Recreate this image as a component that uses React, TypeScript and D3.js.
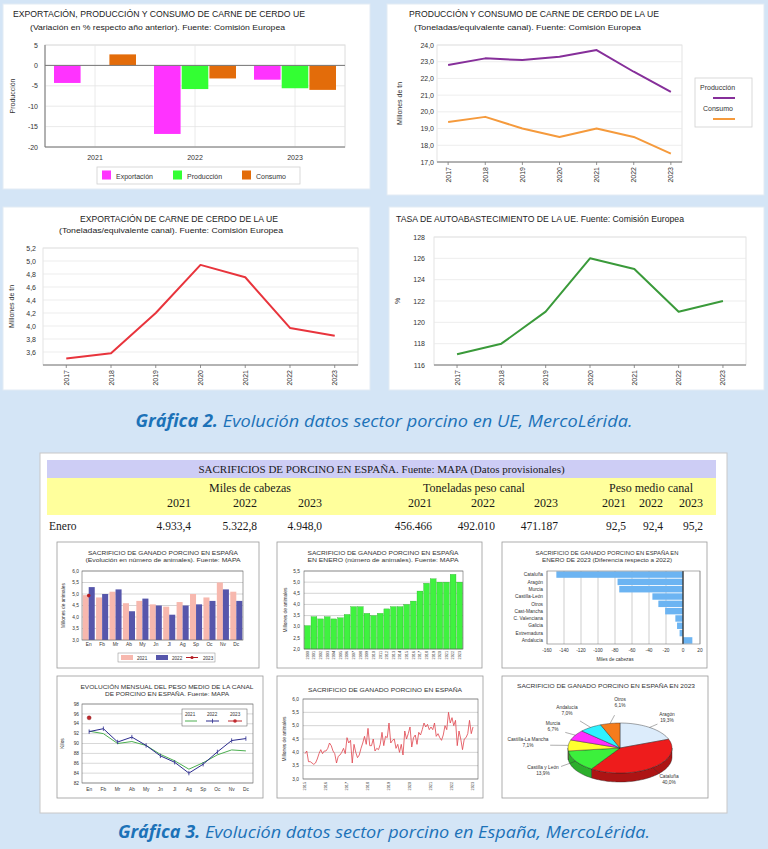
import React, { useEffect } from 'react';
import * as d3 from 'd3';

const SANS = "'Liberation Sans', Arial, Helvetica, sans-serif";
const SERIF = "'Liberation Serif', 'Times New Roman', serif";
const CAP = "'Open Sans', 'Noto Sans', sans-serif";

const es = d3.formatLocale({ decimal: ',', thousands: '.', grouping: [3], currency: ['', '€'] });
const f1 = es.format('.1f');
const fThousand1 = es.format(',.1f');
const fThousand0 = es.format(',d');

// ---------------- UE data ----------------
const ueYears = ['2017', '2018', '2019', '2020', '2021', '2022', '2023'];
const varYears = ['2021', '2022', '2023'];
const varSeries = ['Exportación', 'Producción', 'Consumo'];
const varExportacion = [-4.3, -16.8, -3.5];
const varProduccion = [null, -5.8, -5.6];
const varConsumo = [2.7, -3.2, -6.0];
const varColors = ['#ff33ff', '#33ff33', '#e36c0a'];
const varTicks = [5, 0, -5, -10, -15, -20];

const ueProduccion = [22.8, 23.2, 23.1, 23.3, 23.7, 22.4, 21.2];
const ueConsumo = [19.4, 19.7, 19.0, 18.5, 19.0, 18.5, 17.5];
const ueProdTicks = [17, 18, 19, 20, 21, 22, 23, 24];

const ueExport = [3.5, 3.58, 4.2, 4.94, 4.75, 3.97, 3.85];
const ueExportTicks = [3.6, 3.8, 4.0, 4.2, 4.4, 4.6, 4.8, 5.0, 5.2];

const ueTasa = [117, 118, 121, 126, 125, 121, 122];
const ueTasaTicks = [116, 118, 120, 122, 124, 126, 128];

// ---------------- Spain table ----------------
const tblGroups = ['Miles de cabezas', 'Toneladas peso canal', 'Peso medio canal'];
const tblYears = ['2021', '2022', '2023'];
const eneroMiles = [4933.4, 5322.8, 4948.0];
const eneroToneladas = [456466, 492010, 471187];
const eneroPeso = [92.5, 92.4, 95.2];

// ---------------- Spain small charts ----------------
const months = ['En', 'Fb', 'Mr', 'Ab', 'My', 'Jn', 'Jl', 'Ag', 'Sp', 'Oc', 'Nv', 'Dc'];
const sac2021 = [4.95, 4.85, 5.1, 4.6, 4.7, 4.55, 4.45, 4.65, 5.0, 4.85, 5.5, 5.1];
const sac2022 = [5.3, 5.0, 5.2, 4.25, 4.8, 4.5, 4.1, 4.5, 4.55, 4.7, 5.2, 4.7];
const sac2023 = [4.93];
const sacTicks = [3, 3.5, 4, 4.5, 5, 5.5, 6];

const eneroYears = ['2000', '2001', '2002', '2003', '2004', '2005', '2006', '2007', '2008', '2009', '2010', '2011',
  '2012', '2013', '2014', '2015', '2016', '2017', '2018', '2019', '2020', '2021', '2022', '2023'];
const eneroValues = [3.05, 3.45, 3.35, 3.45, 3.35, 3.4, 3.55, 3.9, 3.9, 3.6, 3.5, 3.6,
  3.8, 3.9, 3.9, 4.0, 4.15, 4.6, 4.95, 5.15, 5.0, 5.0, 5.35, 5.0];
const eneroTicks = [2, 2.5, 3, 3.5, 4, 4.5, 5, 5.5];

const diffRegions = ['Cataluña', 'Aragón', 'Murcia', 'Castilla-León', 'Otros', 'Cast-Mancha', 'C. Valenciana', 'Galicia', 'Extremadura', 'Andalucía'];
const diffValues = [-149, -77, -75, -36, -29, -21, -9, -7, -4, 11];
const diffTicks = [-160, -140, -120, -100, -80, -60, -40, -20, 0, 20];

const peso2021 = [92.5, 92.0, 90.0, 90.4, 89.6, 87.8, 86.5, 84.8, 86.1, 87.7, 88.7, 88.5];
const peso2022 = [92.4, 93.0, 90.3, 91.3, 89.6, 87.5, 86.2, 84.0, 85.8, 88.3, 90.6, 91.0];
const peso2023 = [95.2];
const pesoTicks = [82, 84, 86, 88, 90, 92, 94, 96, 98];

const monthlyYears = ['2015', '2016', '2017', '2018', '2019', '2020', '2021', '2022', '2023'];
const monthlySacrificio = [
  3.95, 4.05, 3.65, 3.65, 3.6, 3.55, 3.6, 3.75, 3.95, 4.1, 3.95, 4.05,
  4.05, 4.15, 4.35, 4.25, 4.05, 3.95, 3.6, 3.85, 3.9, 4.0, 4.15, 3.95,
  4.55, 4.35, 4.45, 3.6, 4.3, 4.0, 3.8, 3.9, 4.15, 4.35, 4.6, 4.3,
  4.9, 4.25, 4.25, 4.5, 4.05, 4.15, 4.1, 4.3, 4.75, 4.25, 4.6, 4.55,
  5.1, 4.35, 4.45, 4.5, 4.15, 4.3, 4.0, 4.3, 3.9, 4.8, 4.5, 4.7,
  4.95, 4.2, 4.55, 4.65, 4.3, 4.75, 4.65, 4.85, 5.1, 4.95, 5.05, 4.85,
  4.95, 4.85, 5.1, 4.6, 4.7, 4.55, 4.45, 4.65, 5.0, 4.85, 5.5, 5.1,
  5.3, 5.0, 5.2, 4.25, 4.8, 4.5, 4.1, 4.5, 4.55, 4.7, 5.2, 4.7,
  4.95,
];

const pieRegions = ['Aragón', 'Cataluña', 'Castilla y León', 'Castilla-La Mancha', 'Murcia', 'Andalucía', 'Otros'];
const pieShares = [19.3, 40.0, 13.9, 7.1, 6.7, 7.0, 6.1];
const pieColors = ['#dcecfb', '#ee1c1c', '#3cf03c', '#ffff2e', '#ff2eff', '#2ef2ff', '#f57c1c'];
// label layout (position of label text, per slice)
const pieLabelPos = [[667, 716], [669, 778], [543, 769], [528, 741], [553, 725], [567, 709], [620, 701]];

// ---------------- helpers ----------------
function LinePanel(props) {
  const { left, right, top, bottom, yDomain, ticks, fmt, series, yTitle, yTitleX, labelX, pad } = props;
  const x = d3.scalePoint().domain(ueYears).range([left, right]).padding(pad);
  const y = d3.scaleLinear().domain(yDomain).range([bottom, top]);
  const line = d3.line().x((_, i) => x(ueYears[i])).y((d) => y(d));
  return (
    <g fontFamily={SANS}>
      <rect x={left} y={top} width={right - left} height={bottom - top} fill="#fff" stroke="#dcdcdc" strokeWidth={0.8} />
      {ticks.map((t) => (
        <g key={t}>
          <line x1={left} x2={right} y1={y(t)} y2={y(t)} stroke="#e8e8e8" strokeWidth={0.8} />
          <text x={labelX} y={y(t) + 2.5} textAnchor="end" fontSize={7} fill="#333">{fmt(t)}</text>
        </g>
      ))}
      <line x1={left} x2={right} y1={bottom} y2={bottom} stroke="#777" strokeWidth={1} />
      {ueYears.map((yr) => (
        <g key={yr}>
          <line x1={x(yr)} x2={x(yr)} y1={bottom} y2={bottom + 3} stroke="#777" strokeWidth={0.8} />
          <text transform={`translate(${x(yr) + 2.5},${bottom + 5}) rotate(-90)`} textAnchor="end" fontSize={7} fill="#333">{yr}</text>
        </g>
      ))}
      {series.map((s, i) => (
        <path key={i} d={line(s.values)} fill="none" stroke={s.color} strokeWidth={2} strokeLinejoin="round" />
      ))}
      <text transform={`translate(${yTitleX},${(top + bottom) / 2}) rotate(-90)`} textAnchor="middle" fontSize={7} fill="#333">{yTitle}</text>
    </g>
  );
}

function VarChart() {
  const left = 45, right = 345, top = 45, bottom = 147;
  const x0 = d3.scaleBand().domain(varYears).range([left, right]).paddingInner(0.18).paddingOuter(0.09);
  const x1 = d3.scaleBand().domain(varSeries).range([0, x0.bandwidth()]).paddingInner(0.04);
  const y = d3.scaleLinear().domain([-20, 5]).range([bottom, top]);
  const seriesValues = [varExportacion, varProduccion, varConsumo];
  const legendX = [102, 173, 242];
  return (
    <g fontFamily={SANS}>
      <text x={13} y={17} fontSize={8.5} fill="#222" textLength={292} lengthAdjust="spacingAndGlyphs">EXPORTACIÓN, PRODUCCIÓN Y CONSUMO DE CARNE DE CERDO UE</text>
      <text x={30} y={30} fontSize={8} fill="#222" textLength={255} lengthAdjust="spacingAndGlyphs">(Variación en % respecto año anterior). Fuente: Comisión Europea</text>
      <rect x={left} y={top} width={right - left} height={bottom - top} fill="#fff" stroke="#dcdcdc" />
      {varTicks.map((t) => (
        <g key={t}>
          <line x1={left} x2={right} y1={y(t)} y2={y(t)} stroke="#e4e4e4" strokeWidth={0.8} />
          <text x={38} y={y(t) + 2.5} textAnchor="end" fontSize={7} fill="#333">{t}</text>
        </g>
      ))}
      {varYears.map((yr) => (
        <line key={yr} x1={x0(yr) + x0.bandwidth() / 2} x2={x0(yr) + x0.bandwidth() / 2} y1={top} y2={bottom} stroke="#e4e4e4" strokeWidth={0.8} />
      ))}
      {varYears.map((yr, gi) =>
        varSeries.map((s, si) => {
          const v = seriesValues[si][gi];
          if (v === null || v === undefined) return null;
          return (
            <rect key={yr + s} x={x0(yr) + x1(s)} width={x1.bandwidth()} y={Math.min(y(v), y(0))} height={Math.abs(y(v) - y(0))} fill={varColors[si]} />
          );
        })
      )}
      <line x1={left} x2={right} y1={y(0)} y2={y(0)} stroke="#777" strokeWidth={1} />
      <line x1={left} x2={left} y1={top} y2={bottom} stroke="#777" strokeWidth={1} />
      <line x1={left} x2={right} y1={bottom} y2={bottom} stroke="#777" strokeWidth={1} />
      {varYears.map((yr) => (
        <text key={yr} x={x0(yr) + x0.bandwidth() / 2} y={160} textAnchor="middle" fontSize={7} fill="#333">{yr}</text>
      ))}
      <text transform={`translate(15,${(top + bottom) / 2}) rotate(-90)`} textAnchor="middle" fontSize={7} fill="#333">Producción</text>
      <rect x={97} y={167} width={203} height={17} fill="#fff" stroke="#d0d0d0" strokeWidth={0.8} />
      {varSeries.map((s, i) => (
        <g key={s}>
          <rect x={legendX[i]} y={170.5} width={9} height={9} fill={varColors[i]} />
          <text x={legendX[i] + 14} y={178.5} fontSize={7} fill="#333">{s}</text>
        </g>
      ))}
    </g>
  );
}

function ProdConsChart() {
  return (
    <g fontFamily={SANS}>
      <text x={409} y={17} fontSize={8.5} fill="#222" textLength={250} lengthAdjust="spacingAndGlyphs">PRODUCCIÓN Y CONSUMO DE CARNE DE CERDO DE LA UE</text>
      <text x={414} y={30} fontSize={8} fill="#222" textLength={227} lengthAdjust="spacingAndGlyphs">(Toneladas/equivalente canal). Fuente: Comisión Europea</text>
      <LinePanel left={437} right={682} top={45} bottom={162} yDomain={[17, 24]} ticks={ueProdTicks} fmt={f1}
        series={[{ values: ueProduccion, color: '#862f9a' }, { values: ueConsumo, color: '#f59a3c' }]}
        yTitle="Millones de tn" yTitleX={402} labelX={434} pad={0.3} />
      <rect x={695} y={78} width={57} height={49} fill="#fff" stroke="#d0d0d0" strokeWidth={0.8} />
      <text x={700} y={90} fontSize={7} fill="#333">Producción</text>
      <line x1={713} x2={735} y1={98} y2={98} stroke="#862f9a" strokeWidth={2} />
      <text x={703} y={111} fontSize={7} fill="#333">Consumo</text>
      <line x1={713} x2={735} y1={119} y2={119} stroke="#f59a3c" strokeWidth={2} />
    </g>
  );
}

function ExportChart() {
  return (
    <g fontFamily={SANS}>
      <text x={80} y={222} fontSize={8.5} fill="#222" textLength={198} lengthAdjust="spacingAndGlyphs">EXPORTACIÓN DE CARNE DE CERDO DE LA UE</text>
      <text x={59} y={233} fontSize={8} fill="#222" textLength={224} lengthAdjust="spacingAndGlyphs">(Toneladas/equivalente canal). Fuente: Comisión Europea</text>
      <LinePanel left={43} right={358} top={248} bottom={365} yDomain={[3.4, 5.2]} ticks={ueExportTicks} fmt={f1}
        series={[{ values: ueExport, color: '#e8343c' }]}
        yTitle="Millones de tn" yTitleX={14} labelX={36} pad={0.52} />
    </g>
  );
}

function TasaChart() {
  return (
    <g fontFamily={SANS}>
      <text x={396} y={222} fontSize={8.5} fill="#222" textLength={288} lengthAdjust="spacingAndGlyphs">TASA DE AUTOABASTECIMIENTO DE LA UE. Fuente: Comisión Europea</text>
      <LinePanel left={434} right={746} top={237} bottom={365} yDomain={[116, 128]} ticks={ueTasaTicks} fmt={(v) => String(v)}
        series={[{ values: ueTasa, color: '#3a9a3a' }]}
        yTitle="%" yTitleX={400} labelX={425} pad={0.52} />
    </g>
  );
}

function Table() {
  const L = 47, R = 716;
  const groupCenters = [250, 474, 651];
  const colRight = [[191, 257, 322], [432, 495, 558], [626, 663, 703]];
  const values = [eneroMiles.map(fThousand1), eneroToneladas.map(fThousand0), eneroPeso.map(f1)];
  return (
    <g fontFamily={SERIF} fill="#1a1a1a">
      <rect x={L} y={460} width={R - L} height={18} fill="#cdcdf5" />
      <text x={(L + R) / 2} y={473} textAnchor="middle" fontSize={11}>SACRIFICIOS DE PORCINO EN ESPAÑA. Fuente: MAPA (Datos provisionales)</text>
      <rect x={L} y={478} width={R - L} height={37} fill="#ffff9c" />
      {tblGroups.map((g, i) => (
        <text key={g} x={groupCenters[i]} y={492} textAnchor="middle" fontSize={12}>{g}</text>
      ))}
      {colRight.map((cols, gi) => cols.map((cx, yi) => (
        <g key={gi + '-' + yi}>
          <text x={cx} y={507} textAnchor="end" fontSize={12}>{tblYears[yi]}</text>
          <text x={cx} y={530} textAnchor="end" fontSize={11.5}>{values[gi][yi]}</text>
        </g>
      )))}
      <text x={49} y={530} fontSize={11.5}>Enero</text>
    </g>
  );
}

function BoxTitle({ cx, y, lines, widths, size = 5.2 }) {
  return (
    <g fontFamily={SANS} fill="#333">
      {lines.map((l, i) => (
        <text key={i} x={cx} y={y + i * 7} textAnchor="middle" fontSize={size} textLength={widths[i]} lengthAdjust="spacingAndGlyphs">{l}</text>
      ))}
    </g>
  );
}

function BoxMonthly() {
  const left = 82, right = 243, top = 571, bottom = 640;
  const x = d3.scaleBand().domain(months).range([left, right]).paddingInner(0.1).paddingOuter(0.05);
  const xs = d3.scaleBand().domain(['2021', '2022']).range([0, x.bandwidth()]);
  const y = d3.scaleLinear().domain([3, 6]).range([bottom, top]);
  return (
    <g fontFamily={SANS}>
      <BoxTitle cx={163} y={555} lines={['SACRIFICIO DE GANADO PORCINO EN ESPAÑA', '(Evolución en número de animales). Fuente: MAPA']} widths={[150, 155]} />
      <rect x={left} y={top} width={right - left} height={bottom - top} fill="#fff" />
      {sacTicks.map((t) => (
        <g key={t}>
          <line x1={left} x2={right} y1={y(t)} y2={y(t)} stroke="#a8a8a8" strokeWidth={0.5} />
          <text x={79} y={y(t) + 1.7} textAnchor="end" fontSize={4.8} fill="#333">{f1(t)}</text>
        </g>
      ))}
      {months.map((m, i) => (
        <g key={m}>
          <rect x={x(m) + xs('2021')} width={xs.bandwidth()} y={y(sac2021[i])} height={bottom - y(sac2021[i])} fill="#f7b8ae" />
          <rect x={x(m) + xs('2022')} width={xs.bandwidth()} y={y(sac2022[i])} height={bottom - y(sac2022[i])} fill="#5656ab" />
          <text x={x(m) + x.bandwidth() / 2} y={646} textAnchor="middle" fontSize={4.8} fill="#333">{m}</text>
        </g>
      ))}
      {sac2023.map((v, i) => (
        <circle key={i} cx={x(months[i]) + x.bandwidth() / 2} cy={y(v)} r={1.8} fill="#b51c22" />
      ))}
      <rect x={left} y={top} width={right - left} height={bottom - top} fill="none" stroke="#666" strokeWidth={0.6} />
      <text transform={`translate(65,${(top + bottom) / 2}) rotate(-90)`} textAnchor="middle" fontSize={4.8} fill="#333">Millones de animales</text>
      <rect x={118} y={653} width={97} height={9} fill="#fff" stroke="#888" strokeWidth={0.5} />
      <rect x={121} y={655} width={12} height={5} fill="#f7b8ae" />
      <text x={137} y={659.5} fontSize={4.6} fill="#333">2021</text>
      <rect x={156} y={655} width={12} height={5} fill="#5656ab" />
      <text x={172} y={659.5} fontSize={4.6} fill="#333">2022</text>
      <line x1={186} x2={198} y1={657.5} y2={657.5} stroke="#b51c22" strokeWidth={1} />
      <circle cx={192} cy={657.5} r={1.6} fill="#b51c22" />
      <text x={203} y={659.5} fontSize={4.6} fill="#333">2023</text>
    </g>
  );
}

function BoxEnero() {
  const left = 304, right = 463, top = 571, bottom = 649;
  const x = d3.scaleBand().domain(eneroYears).range([left, right]).paddingInner(0.12).paddingOuter(0.06);
  const y = d3.scaleLinear().domain([2, 5.5]).range([bottom, top]);
  return (
    <g fontFamily={SANS}>
      <BoxTitle cx={383} y={555} lines={['SACRIFICIO DE GANADO PORCINO EN ESPAÑA', 'EN ENERO (número de animales). Fuente: MAPA']} widths={[151, 151]} />
      <rect x={left} y={top} width={right - left} height={bottom - top} fill="#fff" />
      {eneroTicks.map((t) => (
        <g key={t}>
          <line x1={left} x2={right} y1={y(t)} y2={y(t)} stroke="#a8a8a8" strokeWidth={0.5} />
          <text x={300} y={y(t) + 1.7} textAnchor="end" fontSize={4.8} fill="#333">{f1(t)}</text>
        </g>
      ))}
      {eneroYears.map((yr, i) => (
        <g key={yr}>
          <rect x={x(yr)} width={x.bandwidth()} y={y(eneroValues[i])} height={bottom - y(eneroValues[i])} fill="#3ff23f" stroke="#22a022" strokeWidth={0.3} />
          <text transform={`translate(${x(yr) + x.bandwidth() / 2 + 1.4},${bottom + 2}) rotate(-90)`} textAnchor="end" fontSize={3.8} fill="#333">{yr}</text>
        </g>
      ))}
      <rect x={left} y={top} width={right - left} height={bottom - top} fill="none" stroke="#666" strokeWidth={0.6} />
      <text transform={`translate(287,${(top + bottom) / 2}) rotate(-90)`} textAnchor="middle" fontSize={4.8} fill="#333">Millones de animales</text>
    </g>
  );
}

function BoxDiff() {
  const left = 547, right = 700, top = 571, bottom = 644;
  const x = d3.scaleLinear().domain([-160, 20]).range([left, right]);
  const y = d3.scaleBand().domain(diffRegions).range([top, bottom]).paddingInner(0.12).paddingOuter(0.05);
  return (
    <g fontFamily={SANS}>
      <BoxTitle cx={607} y={555} lines={['SACRIFICIO DE GANADO PORCINO EN ESPAÑA EN', 'ENERO DE 2023 (Diferencia respecto a 2022)']} widths={[143, 130]} />
      <rect x={left} y={top} width={right - left} height={bottom - top} fill="#fff" />
      {diffTicks.map((t) => (
        <g key={t}>
          <line x1={x(t)} x2={x(t)} y1={top} y2={bottom} stroke="#9a9a9a" strokeWidth={0.5} />
          <text x={x(t)} y={652} textAnchor="middle" fontSize={4.8} fill="#333">{t}</text>
        </g>
      ))}
      {diffRegions.map((r, i) => (
        <g key={r}>
          <rect x={Math.min(x(diffValues[i]), x(0))} width={Math.abs(x(diffValues[i]) - x(0))} y={y(r)} height={y.bandwidth()} fill="#6cb4f2" />
          <text x={543} y={y(r) + y.bandwidth() / 2 + 1.7} textAnchor="end" fontSize={4.8} fill="#333">{r}</text>
        </g>
      ))}
      <line x1={x(0)} x2={x(0)} y1={top} y2={bottom} stroke="#333" strokeWidth={1.3} />
      <rect x={left} y={top} width={right - left} height={bottom - top} fill="none" stroke="#777" strokeWidth={0.6} />
      <text x={615} y={661} textAnchor="middle" fontSize={4.8} fill="#333">Miles de cabezas</text>
    </g>
  );
}

function BoxPeso() {
  const left = 82, right = 253, top = 704, bottom = 783;
  const x = d3.scalePoint().domain(months).range([left, right]).padding(0.5);
  const y = d3.scaleLinear().domain([82, 98]).range([bottom, top]);
  const line = d3.line().x((_, i) => x(months[i])).y((d) => y(d));
  return (
    <g fontFamily={SANS}>
      <BoxTitle cx={167} y={689} lines={['EVOLUCIÓN MENSUAL DEL PESO MEDIO DE LA CANAL', 'DE PORCINO EN ESPAÑA. Fuente: MAPA']} widths={[173, 124]} />
      <rect x={left} y={top} width={right - left} height={bottom - top} fill="#fff" />
      {pesoTicks.map((t) => (
        <g key={t}>
          <line x1={left} x2={right} y1={y(t)} y2={y(t)} stroke="#b0b0b0" strokeWidth={0.5} />
          <text x={79} y={y(t) + 1.7} textAnchor="end" fontSize={4.8} fill="#333">{t}</text>
        </g>
      ))}
      <path d={line(peso2021)} fill="none" stroke="#4caf50" strokeWidth={1} />
      <path d={line(peso2022)} fill="none" stroke="#2c2c8e" strokeWidth={1} />
      {peso2022.map((v, i) => (
        <line key={i} x1={x(months[i])} x2={x(months[i])} y1={y(v) - 2.2} y2={y(v) + 2.2} stroke="#2c2c8e" strokeWidth={0.8} />
      ))}
      {peso2023.map((v, i) => (
        <circle key={i} cx={x(months[i])} cy={y(v)} r={2} fill="#c0282d" stroke="#7a1010" strokeWidth={0.4} />
      ))}
      {months.map((m) => (
        <text key={m} x={x(m)} y={791} textAnchor="middle" fontSize={4.8} fill="#333">{m}</text>
      ))}
      <rect x={left} y={top} width={right - left} height={bottom - top} fill="none" stroke="#666" strokeWidth={0.6} />
      <text transform={`translate(64,${(top + bottom) / 2}) rotate(-90)`} textAnchor="middle" fontSize={4.8} fill="#333">Kilos</text>
      <rect x={182} y={709} width={65} height={17} fill="#fff" stroke="#555" strokeWidth={0.5} />
      <text x={185} y={715.5} fontSize={4.6} fill="#333">2021</text>
      <text x={207} y={715.5} fontSize={4.6} fill="#333">2022</text>
      <text x={230} y={715.5} fontSize={4.6} fill="#333">2023</text>
      <line x1={185} x2={197} y1={721} y2={721} stroke="#4caf50" strokeWidth={1} />
      <line x1={206} x2={219} y1={721} y2={721} stroke="#2c2c8e" strokeWidth={1} />
      <line x1={212.5} x2={212.5} y1={718.8} y2={723.2} stroke="#2c2c8e" strokeWidth={0.8} />
      <line x1={228} x2={242} y1={721} y2={721} stroke="#c0282d" strokeWidth={1} />
      <circle cx={235} cy={721} r={1.8} fill="#c0282d" />
    </g>
  );
}

function BoxMonthlyLine() {
  const left = 303, right = 478, top = 699, bottom = 779;
  const x = d3.scaleLinear().domain([0, monthlySacrificio.length - 1]).range([305, 473]);
  const y = d3.scaleLinear().domain([3, 6]).range([bottom, top]);
  const line = d3.line().x((_, i) => x(i)).y((d) => y(d));
  return (
    <g fontFamily={SANS}>
      <BoxTitle cx={385} y={692} lines={['SACRIFICIO DE GANADO PORCINO EN ESPAÑA']} widths={[154]} />
      <rect x={left} y={top} width={right - left} height={bottom - top} fill="#fff" />
      {sacTicks.map((t) => (
        <g key={t}>
          <line x1={left} x2={right} y1={y(t)} y2={y(t)} stroke="#a8a8a8" strokeWidth={0.5} />
          <text x={299} y={y(t) + 1.7} textAnchor="end" fontSize={4.8} fill="#333">{f1(t)}</text>
        </g>
      ))}
      <path d={line(monthlySacrificio)} fill="none" stroke="#e0444c" strokeWidth={0.8} strokeLinejoin="round" />
      {monthlyYears.map((yr, i) => (
        <text key={yr} transform={`translate(${x(i * 12) + 1.4},${bottom + 3}) rotate(-90)`} textAnchor="end" fontSize={3.8} fill="#333">{yr}</text>
      ))}
      <rect x={left} y={top} width={right - left} height={bottom - top} fill="none" stroke="#666" strokeWidth={0.6} />
      <text transform={`translate(286,${(top + bottom) / 2}) rotate(-90)`} textAnchor="middle" fontSize={4.8} fill="#333">Millones de animales</text>
    </g>
  );
}

function BoxPie() {
  const cx = 620, cy = 748, rx = 52, ry = 25, depth = 9;
  const arcs = d3.pie().sort(null).value((d) => d)(pieShares);
  const pt = (a, dy = 0) => [cx + rx * Math.sin(a), cy - ry * Math.cos(a) + dy];
  const ell = (a0, a1, dy = 0) => {
    const n = Math.max(2, Math.ceil((a1 - a0) / 0.04));
    return d3.range(n + 1).map((i) => pt(a0 + ((a1 - a0) * i) / n, dy));
  };
  const toPath = (pts) => 'M' + pts.map((p) => p[0].toFixed(2) + ',' + p[1].toFixed(2)).join('L') + 'Z';
  return (
    <g fontFamily={SANS}>
      <BoxTitle cx={606} y={688} lines={['SACRIFICIO DE GANADO PORCINO EN ESPAÑA EN 2023']} widths={[178]} />
      {arcs.map((a, i) => {
        const s = Math.max(a.startAngle, Math.PI / 2);
        const e = Math.min(a.endAngle, (3 * Math.PI) / 2);
        if (s >= e) return null;
        const pts = ell(s, e, 0).concat(ell(s, e, depth).reverse());
        return <path key={'s' + i} d={toPath(pts)} fill={d3.color(pieColors[i]).darker(0.9).formatHex()} stroke="#222" strokeWidth={0.4} />;
      })}
      {arcs.map((a, i) => (
        <path key={'t' + i} d={toPath([[cx, cy]].concat(ell(a.startAngle, a.endAngle)))} fill={pieColors[i]} stroke="#222" strokeWidth={0.4} />
      ))}
      {arcs.map((a, i) => {
        const mid = (a.startAngle + a.endAngle) / 2;
        const p0 = pt(mid);
        const [lx, ly] = pieLabelPos[i];
        const tx = lx + (p0[0] - lx) * 0.55;
        const ty = ly + 4 + (p0[1] - ly - 4) * 0.55;
        return (
          <g key={'l' + i}>
            <line x1={p0[0]} y1={p0[1]} x2={tx} y2={ty} stroke="#333" strokeWidth={0.4} />
            <text x={lx} y={ly} textAnchor="middle" fontSize={4.8} fill="#333">{pieRegions[i]}</text>
            <text x={lx} y={ly + 6} textAnchor="middle" fontSize={4.8} fill="#333">{f1(pieShares[i]) + '%'}</text>
          </g>
        );
      })}
    </g>
  );
}

export default function App() {
  useEffect(() => {
    document.body.style.margin = '0';
  }, []);
  const boxes = [
    [57, 542, 202, 126], [277, 542, 205, 126], [502, 542, 205, 126],
    [57, 676, 206, 122], [277, 676, 206, 122], [502, 676, 206, 122],
  ];
  return (
    <div style={{ position: 'absolute', left: 0, top: 0, width: 768, height: 849, overflow: 'hidden' }}>
      <svg width={768} height={849} viewBox="0 0 768 849" style={{ display: 'block' }}>
        <rect x={0} y={0} width={768} height={849} fill="#d4e5f6" />
        <rect x={3} y={4} width={367} height={185} fill="#fff" stroke="#e2ebf4" />
        <rect x={387} y={4} width={377} height={191} fill="#fff" stroke="#e2ebf4" />
        <rect x={3} y={207} width={367} height={183} fill="#fff" stroke="#e2ebf4" />
        <rect x={389} y={207} width={375} height={183} fill="#fff" stroke="#e2ebf4" />
        <VarChart />
        <ProdConsChart />
        <ExportChart />
        <TasaChart />
        <text x={384} y={427} textAnchor="middle" fontFamily={CAP} fontStyle="italic" fontSize={17} fill="#1c72b8" textLength={497} lengthAdjust="spacingAndGlyphs">
          <tspan fontWeight={700}>Gráfica 2.</tspan> Evolución datos sector porcino en UE, MercoLérida.
        </text>
        <rect x={40} y={453} width={687} height={360} fill="#fff" stroke="#c8c8c8" />
        <Table />
        {boxes.map((b, i) => (
          <rect key={i} x={b[0]} y={b[1]} width={b[2]} height={b[3]} fill="#fff" stroke="#9a9a9a" strokeWidth={0.8} />
        ))}
        <BoxMonthly />
        <BoxEnero />
        <BoxDiff />
        <BoxPeso />
        <BoxMonthlyLine />
        <BoxPie />
        <text x={384} y={838} textAnchor="middle" fontFamily={CAP} fontStyle="italic" fontSize={17} fill="#1c72b8" textLength={532} lengthAdjust="spacingAndGlyphs">
          <tspan fontWeight={700}>Gráfica 3.</tspan> Evolución datos sector porcino en España, MercoLérida.
        </text>
      </svg>
    </div>
  );
}
